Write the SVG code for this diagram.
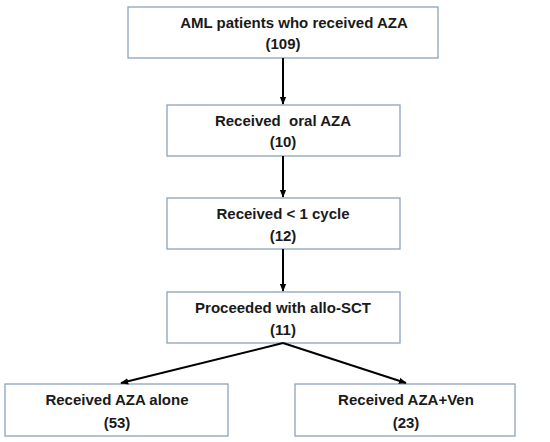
<svg xmlns="http://www.w3.org/2000/svg" width="550" height="442" viewBox="0 0 550 442">
<defs>
<marker id="ah" viewBox="0 0 10 10" refX="9" refY="5" markerWidth="4" markerHeight="4" orient="auto" markerUnits="strokeWidth">
<path d="M0,1 L10,5 L0,9 z" fill="#000"/>
</marker>
<style>
.box{fill:#fff;stroke:#8ea2bc;stroke-width:1.3}
.t{font-family:"Liberation Sans",Arial,sans-serif;font-weight:bold;font-size:15px;fill:#1a1a1a;text-anchor:middle}
.c{stroke:#000;stroke-width:2;fill:none}
</style>
</defs>
<rect width="550" height="442" fill="#fff"/>
<g id="n1"><rect class="box" x="128" y="7" width="310" height="51"/><text class="t" x="294" y="28">AML patients who received AZA</text><text class="t" x="283" y="49">(109)</text></g>
<g id="n2"><rect class="box" x="167" y="105" width="233" height="51"/><text class="t" x="283" y="126" xml:space="preserve">Received  oral AZA</text><text class="t" x="283" y="147">(10)</text></g>
<g id="n3"><rect class="box" x="167" y="198" width="233" height="51"/><text class="t" x="283" y="219">Received &lt; 1 cycle</text><text class="t" x="283" y="241">(12)</text></g>
<g id="n4"><rect class="box" x="167" y="292" width="233" height="51"/><text class="t" x="283" y="313">Proceeded with allo-SCT</text><text class="t" x="283" y="335">(11)</text></g>
<g id="n5"><rect class="box" x="5" y="384" width="223" height="52"/><text class="t" x="117" y="405">Received AZA alone</text><text class="t" x="117" y="428">(53)</text></g>
<g id="n6"><rect class="box" x="295" y="384" width="220" height="52"/><text class="t" x="406" y="405">Received AZA+Ven</text><text class="t" x="406" y="428">(23)</text></g>
<g id="connectors">
<line class="c" x1="283" y1="58" x2="283" y2="104" marker-end="url(#ah)"/>
<line class="c" x1="283" y1="156" x2="283" y2="197" marker-end="url(#ah)"/>
<line class="c" x1="283" y1="249" x2="283" y2="291" marker-end="url(#ah)"/>
<line class="c" x1="283" y1="343" x2="121" y2="383" marker-end="url(#ah)"/>
<line class="c" x1="283" y1="343" x2="406" y2="383" marker-end="url(#ah)"/>
</g>
</svg>
